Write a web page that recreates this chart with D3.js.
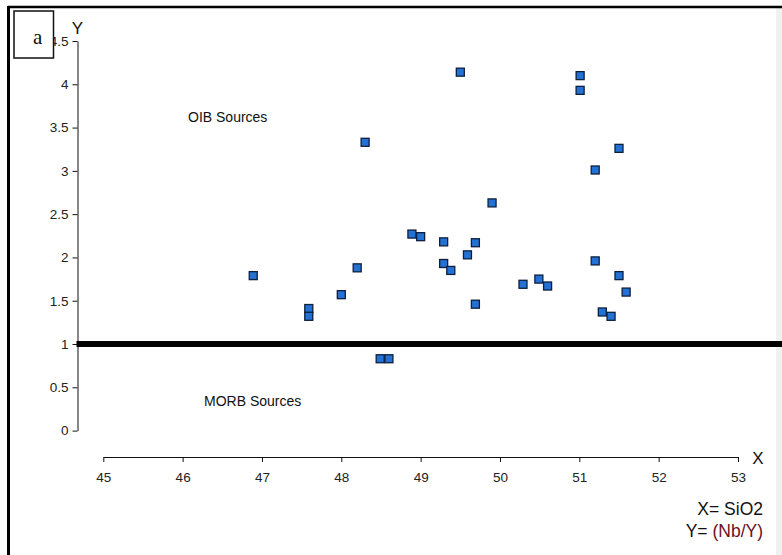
<!DOCTYPE html>
<html>
<head>
<meta charset="utf-8">
<script src="https://cdn.jsdelivr.net/npm/d3@7/dist/d3.min.js"></script>
<style>
  html, body { margin: 0; padding: 0; background: #fff; }
  svg { display: block; }
  text { font-family: "Liberation Sans", Arial, sans-serif; }
</style>
</head>
<body>
<svg id="chart" width="782" height="555"></svg>
<script>
// SiO2 (wt%) against Nb/Y for each sample
const sio2 = [
  49.5, 48.3, 49.9, 48.89, 49.0, 49.29, 49.69, 49.59, 49.29, 49.38,
  46.89, 48.2, 50.29, 48.0, 47.59, 47.59, 49.69, 51.01, 51.01, 51.5,
  51.2, 51.2, 51.5, 50.49, 50.6, 51.59, 51.29, 51.4, 48.49, 48.6
];
const nbY = [
  4.14, 3.33, 2.63, 2.27, 2.24, 2.18, 2.17, 2.03, 1.93, 1.85,
  1.79, 1.88, 1.69, 1.57, 1.41, 1.32, 1.46, 4.10, 3.93, 3.26,
  3.01, 1.96, 1.79, 1.75, 1.67, 1.60, 1.37, 1.32, 0.83, 0.83
];
const xTicks = [45, 46, 47, 48, 49, 50, 51, 52, 53];
const yTicks = [0, 0.5, 1, 1.5, 2, 2.5, 3, 3.5, 4, 4.5];
const boundaryValue = 1;

const svg = d3.select("#chart");
const W = 782, H = 555;

const x = d3.scaleLinear().domain([45, 53]).range([103.3, 738]);
const y = d3.scaleLinear().domain([0, 4.5]).range([430.6, 41]);
const yAxisX = 77.5;
const xAxisY = 457;

// page frame
svg.append("rect").attr("x", 776).attr("y", 8).attr("width", 6).attr("height", H - 8)
  .attr("fill", "#f0f0f0");
svg.append("line").attr("x1", 8).attr("x2", W).attr("y1", 7).attr("y2", 7)
  .attr("stroke", "#000").attr("stroke-width", 2.5);
svg.append("line").attr("x1", 8.5).attr("x2", 8.5).attr("y1", 6).attr("y2", H)
  .attr("stroke", "#000").attr("stroke-width", 3);

// y axis
const gy = svg.append("g").attr("transform", `translate(${yAxisX},0)`)
  .call(d3.axisLeft(y).tickValues(yTicks).tickSize(5).tickPadding(4)
    .tickFormat(d => String(d)).tickSizeOuter(0));
gy.select(".domain").attr("stroke", "#111");
gy.selectAll(".tick line").attr("stroke", "#111");
gy.selectAll(".tick text").attr("fill", "#222").style("font-size", "13.5px")
  .style("font-family", "'Liberation Sans', Arial, sans-serif");

// x axis
const gx = svg.append("g").attr("transform", `translate(0,${xAxisY})`)
  .call(d3.axisBottom(x).tickValues(xTicks).tickSize(5).tickPadding(10)
    .tickFormat(d => String(d)).tickSizeOuter(0));
gx.select(".domain").attr("stroke", "#111");
gx.selectAll(".tick line").attr("stroke", "#111");
gx.selectAll(".tick text").attr("fill", "#222").style("font-size", "13.5px")
  .style("font-family", "'Liberation Sans', Arial, sans-serif");

// axis letters
svg.append("text").attr("x", yAxisX).attr("y", 34).attr("text-anchor", "middle")
  .style("font-size", "17px").attr("fill", "#111").text("Y");
svg.append("text").attr("x", 758).attr("y", 464).attr("text-anchor", "middle")
  .style("font-size", "17px").attr("fill", "#111").text("X");

// Nb/Y = 1 boundary between sources
svg.append("line").attr("x1", yAxisX - 1).attr("x2", W)
  .attr("y1", y(boundaryValue)).attr("y2", y(boundaryValue))
  .attr("stroke", "#000").attr("stroke-width", 6);

// field labels
svg.append("text").attr("x", 188).attr("y", 122).style("font-size", "14px")
  .attr("fill", "#111").text("OIB Sources");
svg.append("text").attr("x", 204).attr("y", 406).style("font-size", "14px")
  .attr("fill", "#111").text("MORB Sources");

// samples
svg.append("g").selectAll("rect").data(sio2.map((v, i) => [v, nbY[i]])).join("rect")
  .attr("x", d => x(d[0]) - 4).attr("y", d => y(d[1]) - 4)
  .attr("width", 8).attr("height", 8)
  .attr("fill", "#2272d6").attr("stroke", "#0e1f3d").attr("stroke-width", 1.3);

// variable key
svg.append("text").attr("x", 763).attr("y", 515).attr("text-anchor", "end")
  .style("font-size", "17.5px").attr("fill", "#111").text("X= SiO2");
const key2 = svg.append("text").attr("x", 763).attr("y", 537).attr("text-anchor", "end")
  .style("font-size", "17.5px").attr("fill", "#111");
key2.append("tspan").text("Y= ");
key2.append("tspan").attr("fill", "#6b1020").text("(Nb/Y)");

// panel tag
svg.append("rect").attr("x", 14).attr("y", 11).attr("width", 39.5).attr("height", 47)
  .attr("fill", "#fff").attr("stroke", "#111").attr("stroke-width", 1.5);
svg.append("text").attr("x", 33).attr("y", 44)
  .style("font-family", "'Liberation Serif', 'Times New Roman', serif")
  .style("font-size", "21px").attr("fill", "#111").text("a");
</script>
</body>
</html>
